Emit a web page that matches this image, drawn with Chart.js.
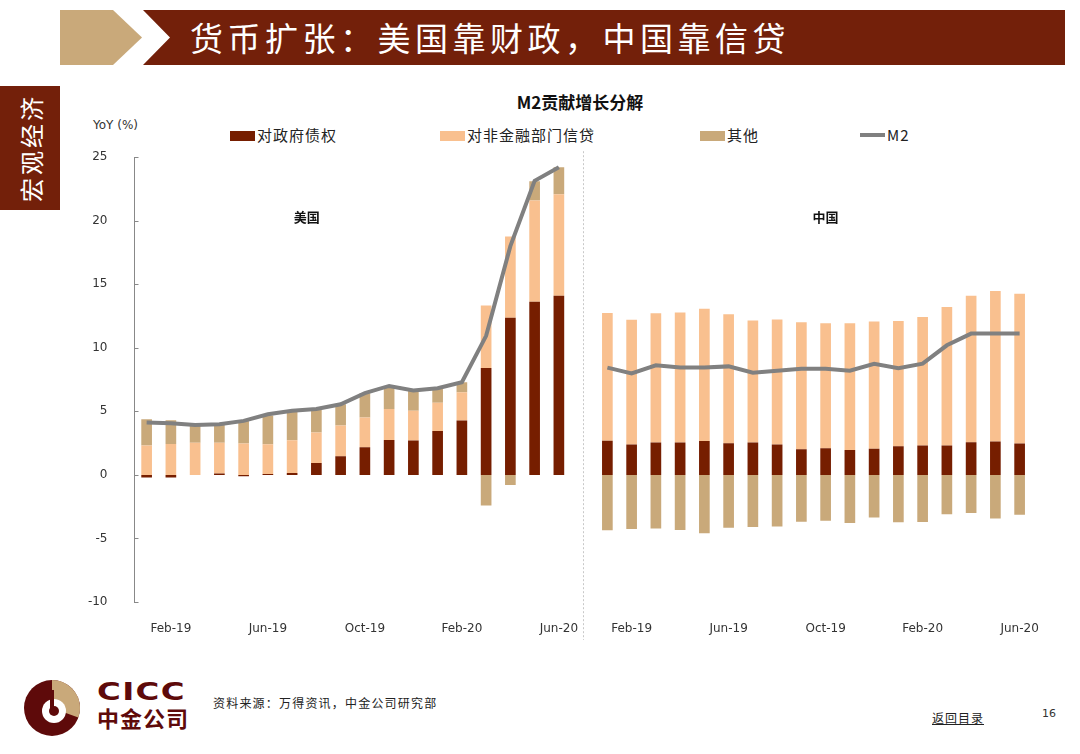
<!DOCTYPE html>
<html>
<head>
<meta charset="utf-8">
<script src="https://cdn.jsdelivr.net/npm/chart.js@4/dist/chart.umd.min.js"></script>
<style>
  body { margin: 0; width: 1080px; height: 754px; background: #fff; position: relative; overflow: hidden;
         font-family: "Noto Sans CJK SC", "DejaVu Sans", sans-serif; }
  .abs { position: absolute; }
  #title { left: 190px; top: 10px; height: 55px; line-height: 55px; color: #fff; font-size: 33px; letter-spacing: 4.5px; }
  #tab { left: 0; top: 86px; width: 60px; height: 124px; background: #73200A; }
  #tabText { left: 30px; top: 148px; transform: translate(-50%, -50%) rotate(-90deg); color: #fff; font-size: 24px;
             letter-spacing: 3px; white-space: nowrap; }
  #ctitle { left: 0; width: 1160px; top: 89px; text-align: center; font-size: 17px; font-weight: bold; color: #111; }
  #yoy { left: 93px; top: 118px; font-size: 12px; color: #333; font-family: "DejaVu Sans", sans-serif; }
  .lg { top: 124px; font-size: 15px; letter-spacing: 1px; color: #222; line-height: 22px; white-space: nowrap; }
  .box { display: inline-block; width: 25px; height: 10px; vertical-align: middle; margin-right: 2px; position: relative; top: -1px; }
  #wrap { left: 60px; top: 131px; width: 991px; height: 509px; }
  #src { left: 213px; top: 694px; font-size: 12px; letter-spacing: 1.2px; color: #222; }
  #back { left: 932px; top: 709px; font-size: 12px; letter-spacing: 1px; color: #222; text-decoration: underline; }
  #page { left: 1042px; top: 707px; font-size: 11px; color: #333; font-family: "DejaVu Sans", sans-serif; }
  #cicc { left: 97px; top: 678px; font-family: 'DejaVu Sans'; font-weight: bold; font-size: 24px; color: #5E0A0A;
          letter-spacing: 1px; transform: scaleX(1.35); transform-origin: 0 0; }
</style>
</head>
<body>
<svg class="abs" style="left:0;top:0" width="1080" height="80">
  <polygon points="60,10 113,10 142,37.5 113,65 60,65" fill="#C9A97A"/>
  <polygon points="143,10 1065,10 1065,65 143,65 170,37.5" fill="#73200A"/>
</svg>
<div id="title" class="abs">货币扩张：美国靠财政，中国靠信贷</div>
<div id="tab" class="abs"></div>
<div id="tabText" class="abs">宏观经济</div>
<div id="ctitle" class="abs">M2贡献增长分解</div>
<div id="yoy" class="abs">YoY (%)</div>
<div class="abs lg" style="left:230px"><span class="box" style="background:#761E00"></span>对政府债权</div>
<div class="abs lg" style="left:440px"><span class="box" style="background:#F9C08F"></span>对非金融部门信贷</div>
<div class="abs lg" style="left:700px"><span class="box" style="background:#C9A97A"></span>其他</div>
<div class="abs lg" style="left:860px"><span class="box" style="background:#808080;height:4px;top:-2px"></span>M2</div>
<div id="wrap" class="abs"><canvas id="c"></canvas></div>

<svg class="abs" style="left:20px;top:678px" width="66" height="60">
  <circle cx="32" cy="30" r="28" fill="#5E0A0A"/>
  <path d="M32,30 L32,2 A28,28 0 0 1 58.3,39.6 Z" fill="#C9A97A"/>
  <circle cx="34" cy="33" r="12" fill="#fff"/>
  <circle cx="34" cy="33" r="5" fill="#5E0A0A"/>
  <rect x="30" y="12" width="4" height="20" fill="#5E0A0A"/>
</svg>
<div id="cicc" class="abs">CICC</div>
<div class="abs" style="left:97px;top:704px;font-weight:bold;font-size:22px;color:#5E0A0A;line-height:26px;letter-spacing:1px">中金公司</div>
<div id="src" class="abs">资料来源：万得资讯，中金公司研究部</div>
<div id="back" class="abs">返回目录</div>
<div id="page" class="abs">16</div>

<script>
// months shown for each panel
const months = ['Jan-19','Feb-19','Mar-19','Apr-19','May-19','Jun-19','Jul-19','Aug-19','Sep-19',
                'Oct-19','Nov-19','Dec-19','Jan-20','Feb-20','Mar-20','Apr-20','May-20','Jun-20'];
const tickLabels = ['Feb-19','Jun-19','Oct-19','Feb-20','Jun-20'];
const yTicks = [-10, -5, 0, 5, 10, 15, 20, 25];

// US contributions (pp)
const usGov    = [-0.2,-0.2,0,0.12,-0.1,0.07,0.15,0.94,1.47,2.18,2.75,2.70,3.46,4.28,8.42,12.36,13.62,14.09];
const usCredit = [2.31,2.44,2.54,2.41,2.47,2.34,2.58,2.39,2.41,2.33,2.44,2.34,2.21,2.23,4.91,6.40,7.97,8.00];
const usOther  = [2.07,1.86,1.45,1.45,1.78,2.26,2.25,1.81,1.68,1.92,1.81,1.62,1.15,0.78,-2.4,-0.8,1.52,2.12];
const usM2     = [4.12,4.07,3.93,3.99,4.25,4.77,5.04,5.19,5.56,6.43,7.00,6.64,6.82,7.29,10.94,18.0,23.14,24.21];

// China contributions (pp)
const cnGov    = [2.68,2.39,2.55,2.55,2.66,2.50,2.55,2.39,2.02,2.10,1.97,2.05,2.26,2.31,2.31,2.58,2.63,2.47];
const cnCredit = [10.07,9.81,10.17,10.23,10.41,10.14,9.60,9.83,9.99,9.83,9.96,10.02,9.86,10.12,10.91,11.51,11.85,11.78];
const cnOther  = [-4.36,-4.26,-4.21,-4.34,-4.60,-4.15,-4.10,-4.05,-3.68,-3.60,-3.79,-3.36,-3.73,-3.71,-3.10,-3.00,-3.42,-3.13];
const cnM2     = [8.44,7.99,8.62,8.46,8.46,8.54,8.04,8.20,8.36,8.36,8.20,8.75,8.39,8.75,10.20,11.12,11.12,11.12];

const join = (a, b) => a.concat([null], b);
const labels = months.concat([''], months);
const gapIndex = months.length;

const panelPlugin = {
  id: 'panels',
  afterDatasetsDraw(chart) {
    const { ctx, scales: { x, y } } = chart;
    ctx.save();
    // separator
    const sx = Math.round(x.getPixelForValue(gapIndex)) + 0.5;
    ctx.strokeStyle = '#c8c8c8';
    ctx.lineWidth = 1;
    ctx.setLineDash([2, 2]);
    ctx.beginPath();
    ctx.moveTo(sx, chart.chartArea.top - 6);
    ctx.lineTo(sx, chart.chartArea.bottom + 50);
    ctx.stroke();
    ctx.setLineDash([]);
    // inside tick marks on the y axis
    ctx.strokeStyle = '#888';
    const left = chart.chartArea.left;
    y.ticks.forEach(t => {
      const py = Math.round(y.getPixelForValue(t.value)) + 0.5;
      ctx.beginPath();
      ctx.moveTo(left, py);
      ctx.lineTo(left + 4, py);
      ctx.stroke();
    });
    // panel names
    ctx.fillStyle = '#111';
    ctx.font = 'bold 13px "Noto Sans CJK SC"';
    ctx.textAlign = 'center';
    ctx.textBaseline = 'middle';
    ctx.fillText('美国', x.getPixelForValue(6.6), y.getPixelForValue(20.3));
    ctx.fillText('中国', x.getPixelForValue(gapIndex + 1 + 9), y.getPixelForValue(20.3));
    ctx.restore();
  }
};

new Chart(document.getElementById('c'), {
  type: 'bar',
  data: {
    labels: labels,
    datasets: [
      { type: 'line', label: 'M2', data: join(usM2, cnM2), borderColor: '#808080', borderWidth: 4,
        pointRadius: 0, tension: 0, spanGaps: false, stack: 'm2', order: 0 },
      { label: '对政府债权', data: join(usGov, cnGov), backgroundColor: '#761E00', stack: 's', order: 1 },
      { label: '对非金融部门信贷', data: join(usCredit, cnCredit), backgroundColor: '#F9C08F', stack: 's', order: 1 },
      { label: '其他', data: join(usOther, cnOther), backgroundColor: '#C9A97A', stack: 's', order: 1 }
    ]
  },
  options: {
    responsive: true,
    maintainAspectRatio: false,
    animation: false,
    datasets: { bar: { barPercentage: 0.44, categoryPercentage: 1 } },
    layout: { padding: { top: 7, right: 15 } },
    plugins: { legend: { display: false }, tooltip: { enabled: false } },
    scales: {
      x: {
        stacked: true,
        grid: { display: false },
        border: { display: false },
        ticks: {
          autoSkip: false, maxRotation: 0, padding: 12, color: '#333',
          font: { family: 'DejaVu Sans', size: 12 },
          callback: function (v) { const l = this.getLabelForValue(v); return tickLabels.includes(l) ? l : ''; }
        },
        afterFit: s => { s.height = 38; }
      },
      y: {
        stacked: true,
        min: yTicks[0], max: yTicks[yTicks.length - 1],
        afterBuildTicks: s => { s.ticks = yTicks.map(v => ({ value: v })); },
        grid: { display: false },
        border: { display: true, color: '#888', width: 1 },
        ticks: { padding: 19, color: '#333', font: { family: 'DejaVu Sans', size: 12 } },
        afterFit: s => { s.width = 74.5; }
      }
    }
  },
  plugins: [panelPlugin]
});
</script>
</body>
</html>
